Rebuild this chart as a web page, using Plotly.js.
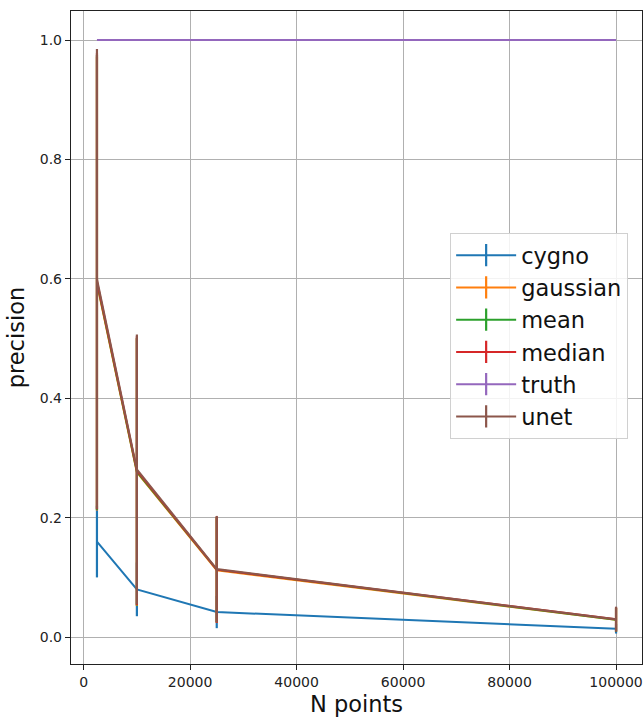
<!DOCTYPE html>
<html>
<head>
<meta charset="utf-8">
<script src="https://cdn.plot.ly/plotly-3.0.1.min.js"></script>
<style>html,body{margin:0;padding:0;background:#fff;}#chart{width:644px;height:719px;}</style>
</head>
<body>
<div id="chart"></div>
<script>
const nPoints = [2500, 10000, 25000, 100000];
const seriesNames = ["cygno", "gaussian", "mean", "median", "truth", "unet"];
const cygnoVal = [0.160, 0.080, 0.042, 0.014];
const cygnoErr = [0.060, 0.045, 0.027, 0.008];
const gaussianVal = [0.592, 0.276, 0.112, 0.029];
const gaussianErr = [0.380, 0.224, 0.088, 0.020];
const meanVal = [0.594, 0.277, 0.113, 0.029];
const meanErr = [0.381, 0.224, 0.088, 0.020];
const medianVal = [0.596, 0.279, 0.113, 0.030];
const medianErr = [0.382, 0.225, 0.089, 0.020];
const truthVal = [1.0, 1.0, 1.0, 1.0];
const truthErr = [0.0, 0.0, 0.0, 0.0];
const unetVal = [0.600, 0.281, 0.114, 0.030];
const unetErr = [0.385, 0.226, 0.089, 0.021];
const xTicks = [0, 20000, 40000, 60000, 80000, 100000];
const yTicks = [0.0, 0.2, 0.4, 0.6, 0.8, 1.0];

const colors = ["#1f77b4", "#ff7f0e", "#2ca02c", "#d62728", "#9467bd", "#8c564b"];
const vals = [cygnoVal, gaussianVal, meanVal, medianVal, truthVal, unetVal];
const errs = [cygnoErr, gaussianErr, meanErr, medianErr, truthErr, unetErr];

const traces = [];
seriesNames.forEach((name, i) => {
  traces.push({
    type: "scatter",
    mode: "lines",
    name: name,
    legendgroup: name,
    showlegend: false,
    x: nPoints,
    y: vals[i],
    line: {color: colors[i], width: 2},
    error_y: {type: "data", array: errs[i], visible: true, color: colors[i], thickness: 2.2, width: 0}
  });
});
// legend-only entries (line with vertical errorbar glyph, like matplotlib)
seriesNames.forEach((name, i) => {
  traces.push({
    type: "scatter",
    mode: "lines+markers",
    name: name,
    legendgroup: name,
    showlegend: true,
    x: [null],
    y: [null],
    line: {color: colors[i], width: 2},
    marker: {symbol: "line-ns", size: 16, color: colors[i], line: {color: colors[i], width: 2.2}}
  });
});

const layout = {
  width: 644, height: 719,
  margin: {l: 71, r: 2, t: 11, b: 55},
  paper_bgcolor: "#fff", plot_bgcolor: "#fff",
  font: {family: "DejaVu Sans, sans-serif", color: "#222", size: 14},
  xaxis: {
    range: [-2375, 104875],
    tickvals: xTicks, ticktext: xTicks.map(String),
    tickfont: {size: 14},
    showgrid: true, gridcolor: "#b0b0b0", gridwidth: 1,
    zeroline: false, showline: true, linecolor: "#222", linewidth: 1.2, mirror: true,
    ticks: "outside", ticklen: 5, tickcolor: "#222",
    title: {text: "N points", font: {size: 22.5, color: "#111"}, standoff: 7}
  },
  yaxis: {
    range: [-0.045, 1.0486],
    tickvals: yTicks, ticktext: yTicks.map(v => v.toFixed(1)),
    tickfont: {size: 14},
    showgrid: true, gridcolor: "#b0b0b0", gridwidth: 1,
    zeroline: false, showline: true, linecolor: "#222", linewidth: 1.2, mirror: true,
    ticks: "outside", ticklen: 5, tickcolor: "#222",
    title: {text: "precision", font: {size: 22.5, color: "#111"}, standoff: 8}
  },
  legend: {
    x: 0.664, y: 0.66, xanchor: "left", yanchor: "top",
    bgcolor: "rgba(255,255,255,0.85)", bordercolor: "#d0d0d0", borderwidth: 1,
    font: {size: 22.5, color: "#111"}, tracegroupgap: 0, itemwidth: 60
  },
  showlegend: true
};

Plotly.newPlot("chart", traces, layout, {displayModeBar: false, staticPlot: true});
</script>
</body>
</html>
